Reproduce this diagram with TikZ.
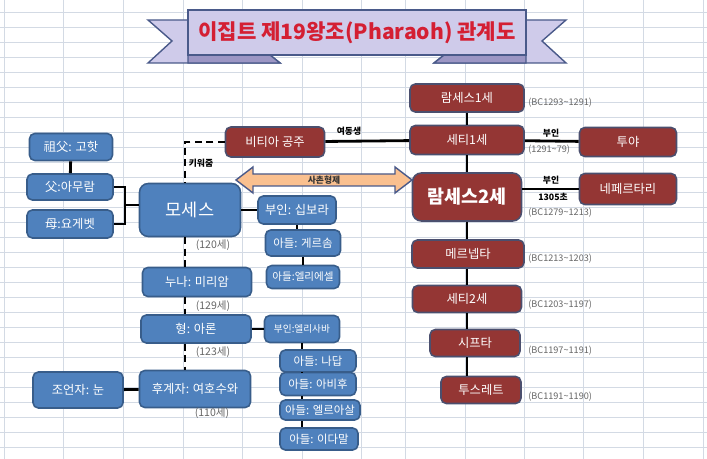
\documentclass[tikz,border=0pt]{standalone}
\usepackage{fontspec}
\setmainfont{Noto Sans CJK KR}
\usetikzlibrary{positioning}
\definecolor{boxblue}{HTML}{4F81BD}
\definecolor{blueline}{HTML}{385D8A}
\definecolor{boxred}{HTML}{943634}
\definecolor{redline}{HTML}{4B4F6E}
\definecolor{ribbon}{HTML}{CFCBEA}
\definecolor{ribbondark}{HTML}{9C96C4}
\definecolor{ribbonline}{HTML}{4A5A8A}
\definecolor{titlered}{HTML}{D41F33}
\definecolor{cousin}{HTML}{FAC08F}
\definecolor{gridgray}{HTML}{D3DAE4}

\begin{document}
\begin{tikzpicture}[x=0.02cm,y=-0.02cm]
            \tikzset{bluebox/.style = {shape=rectangle,rounded corners=3pt,draw=blueline,line width=0.9pt,fill=boxblue,text=white,inner sep=1pt,font=\fontsize{7}{8}\selectfont}}
            \tikzset{redbox/.style = {shape=rectangle,rounded corners=3pt,draw=redline,line width=0.9pt,fill=boxred,text=white,inner sep=1pt,font=\fontsize{7}{8}\selectfont}}
            \tikzset{famline/.style = {line width=1.6pt,black}}
            \tikzset{dashline/.style = {line width=1pt,black,dash pattern=on 4pt off 2.5pt}}
            \tikzset{datelabel/.style = {anchor=west,inner sep=0pt,text=black!60,font=\fontsize{5.2}{6}\selectfont}}
            \tikzset{agelabel/.style = {inner sep=0pt,text=black!60,font=\fontsize{6}{7}\selectfont}}
            \tikzset{linklabel/.style = {inner sep=0pt,text=black,font=\bfseries\fontsize{5}{6}\selectfont}}
            \useasboundingbox (0,0) rectangle (707,459);
            \fill[white] (0,0) rectangle (707,459);
            % sheet grid
            \foreach \gx in {4,63,123,183,242,302,361,405,465,524,583,643,703}
                \draw[gridgray,line width=0.5pt] (\gx,0) -- (\gx,459);
            \foreach \gy in {12,27,...,457}
                \draw[gridgray,line width=0.5pt] (0,\gy) -- (707,\gy);

            % title ribbon
            \draw[ribbonline,fill=ribbon,line width=0.8pt] (148,20) -- (188,20) -- (188,55) -- (270,55) -- (280,63) -- (148,63) -- (172,41) -- cycle;
            \draw[ribbonline,fill=ribbon,line width=0.8pt] (566,20) -- (526,20) -- (526,55) -- (444,55) -- (434,63) -- (566,63) -- (542,41) -- cycle;
            \draw[ribbonline,fill=ribbondark,line width=0.8pt] (188,55) -- (270,55) -- (280,63) -- (188,63) -- cycle;
            \draw[ribbonline,fill=ribbondark,line width=0.8pt] (526,55) -- (444,55) -- (434,63) -- (526,63) -- cycle;
            \draw[ribbonline,fill=ribbon,line width=0.9pt] (188,10) rectangle (526,55);
            \node[text=titlered,font=\bfseries\fontsize{12}{14}\selectfont] (title) at (357,33) {이집트 제19왕조(Pharaoh) 관계도};

            % Moses' family
            \node[bluebox,minimum width=1.66cm,minimum height=0.54cm] (gf) at (71,147) {祖父: 고핫};
            \node[bluebox,minimum width=1.72cm,minimum height=0.52cm] (fa) at (70,187) {父:아무람};
            \node[bluebox,minimum width=1.72cm,minimum height=0.56cm] (mo) at (70,224) {母:요게벳};
            \node[bluebox,minimum width=2.02cm,minimum height=1.06cm,rounded corners=5pt,font=\fontsize{10}{12}\selectfont] (mose) at (190,210) {모세스};
            \node[bluebox,minimum width=2.18cm,minimum height=0.58cm] (sis) at (197,282) {누나: 미리암};
            \node[bluebox,minimum width=2.2cm,minimum height=0.56cm] (bro) at (196,329) {형: 아론};
            \node[bluebox,minimum width=2.22cm,minimum height=0.74cm] (heir) at (195,389) {후계자: 여호수와};
            \node[bluebox,minimum width=1.8cm,minimum height=0.72cm] (adv) at (78,390) {조언자: 눈};
            \node[bluebox,minimum width=1.56cm,minimum height=0.56cm] (zip) at (297,210) {부인: 십보라};
            \node[bluebox,minimum width=1.5cm,minimum height=0.52cm,font=\fontsize{6.5}{7}\selectfont] (ger) at (303,243) {아들: 게르솜};
            \node[bluebox,minimum width=1.46cm,minimum height=0.46cm,font=\fontsize{6}{7}\selectfont] (eli) at (303,277) {아들:엘리에셀};
            \node[bluebox,minimum width=1.5cm,minimum height=0.54cm,font=\fontsize{5.5}{6}\selectfont] (elis) at (302,329) {부인:엘리사바};
            \node[bluebox,minimum width=1.52cm,minimum height=0.44cm,font=\fontsize{6.5}{7}\selectfont] (nad) at (318,361) {아들: 나답};
            \node[bluebox,minimum width=1.52cm,minimum height=0.46cm,font=\fontsize{6.5}{7}\selectfont] (abi) at (318,384) {아들: 아비후};
            \node[bluebox,minimum width=1.6cm,minimum height=0.4cm,font=\fontsize{6.5}{7}\selectfont] (ele) at (320,410) {아들: 엘르아살};
            \node[bluebox,minimum width=1.56cm,minimum height=0.44cm,font=\fontsize{6.5}{7}\selectfont] (ith) at (319,439) {아들: 이다말};

            \node[agelabel] (age1) at (213,245) {(120세)};
            \node[agelabel] (age2) at (213,306) {(129세)};
            \node[agelabel] (age3) at (213,352) {(123세)};
            \node[agelabel] (age4) at (212,413) {(110세)};

            % pharaohs
            \node[redbox,minimum width=1.98cm,minimum height=0.6cm] (bit) at (275,142) {비티아 공주};
            \node[redbox,minimum width=2.28cm,minimum height=0.56cm] (r1) at (467,98) {람세스1세};
            \node[redbox,minimum width=2.28cm,minimum height=0.58cm] (s1) at (467,140) {세티1세};
            \node[redbox,minimum width=2.18cm,minimum height=0.96cm,rounded corners=5pt,font=\bfseries\fontsize{10.5}{12}\selectfont] (r2) at (467,197) {람세스2세};
            \node[redbox,minimum width=1.94cm,minimum height=0.58cm] (tuya) at (628,142) {투야};
            \node[redbox,minimum width=1.94cm,minimum height=0.62cm] (nef) at (628,189) {네페르타리};
            \node[redbox,minimum width=2.24cm,minimum height=0.56cm] (mer) at (468,254) {메르넵타};
            \node[redbox,minimum width=2.18cm,minimum height=0.54cm] (s2) at (467,299) {세티2세};
            \node[redbox,minimum width=1.8cm,minimum height=0.54cm] (sip) at (475,343) {시프타};
            \node[redbox,minimum width=1.6cm,minimum height=0.54cm] (tus) at (481,390) {투스레트};

            \node[datelabel] (d1) at (528,103) {(BC1293\textasciitilde1291)};
            \node[datelabel] (d2) at (528,150) {(1291\textasciitilde79)};
            \node[datelabel] (d3) at (528,213) {(BC1279\textasciitilde1213)};
            \node[datelabel] (d4) at (528,259) {(BC1213\textasciitilde1203)};
            \node[datelabel] (d5) at (528,305) {(BC1203\textasciitilde1197)};
            \node[datelabel] (d6) at (528,351) {(BC1197\textasciitilde1191)};
            \node[datelabel] (d7) at (528,397) {(BC1191\textasciitilde1190)};

            % connectors
            \draw[famline] (gf) -- (fa);
            \coordinate (pj) at (125,205);
            \draw[famline] (fa.east) -| (pj) |- (mo.east);
            \draw[famline] (pj) -- (mose.west |- pj);
            \draw[famline] (mose) -- (zip);
            \draw[famline] (zip.south) -- (zip.south |- ger.north);
            \draw[famline] (ger.south) -- (eli.north);
            \draw[famline] (bro) -- (elis);
            \draw[famline] (elis.south) -- (elis.south |- nad.north);
            \draw[famline] (nad.south -| elis.south) -- (elis.south |- abi.north);
            \draw[famline] (abi.south -| elis.south) -- (elis.south |- ele.north);
            \draw[famline] (ele.south -| elis.south) -- (elis.south |- ith.north);
            \draw[famline] (adv) -- (heir);

            \coordinate (dk) at (185,142);
            \draw[dashline] (bit.west) -- (dk) -- (dk |- mose.north);
            \draw[dashline] (mose.south -| dk) -- (sis.north -| dk);
            \draw[dashline] (sis.south -| dk) -- (bro.north -| dk);
            \draw[dashline] (bro.south -| dk) -- (heir.north -| dk);
            \node[linklabel] (raise) at (201,163) {키워줌};

            \draw[famline] (bit) -- (s1);
            \node[linklabel] (sister) at (349,131) {여동생};
            \draw[famline] (r1) -- (s1);
            \draw[famline] (s1) -- (r2);
            \draw[famline] (r2.south) -- (r2.south |- mer.north);
            \draw[famline] (mer.south -| r2.south) -- (r2.south |- s2.north);
            \draw[famline] (s2.south -| r2.south) -- (r2.south |- sip.north);
            \draw[famline] (sip.south -| r2.south) -- (r2.south |- tus.north);
            \draw[famline] (s1) -- (tuya);
            \draw[famline] (r2.east |- nef.west) -- (nef.west);
            \node[linklabel] (wife1) at (551,133) {부인};
            \node[linklabel] (wife2) at (551,180) {부인};
            \node[linklabel] (born) at (553,197) {1305초};

            % cousins arrow
            \draw[ribbonline,fill=cousin,line width=0.8pt] (236,180) -- (253,167) -- (253,174) -- (395,174) -- (395,167) -- (412,180) -- (395,193) -- (395,186) -- (253,186) -- (253,193) -- cycle;
            \node[linklabel,text=black!80] (cous) at (324,180) {사촌형제};
        \end{tikzpicture}
\end{document}
